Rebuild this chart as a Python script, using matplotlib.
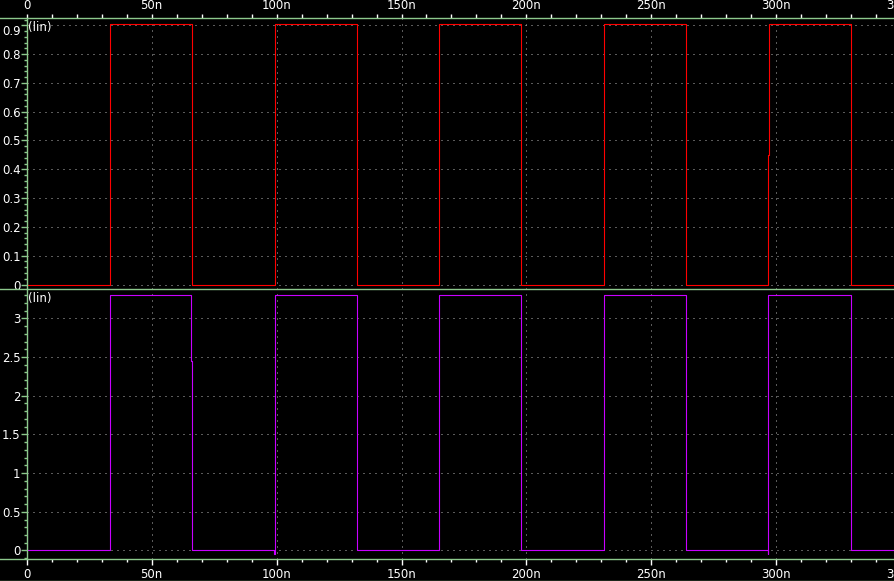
import matplotlib
matplotlib.use("Agg")
import numpy as np
import matplotlib.pyplot as plt
from matplotlib.lines import Line2D
from matplotlib.ticker import MultipleLocator, FixedLocator, FuncFormatter

# waveform data (time in ns, step-post levels)
top_t = [0, 0.01, 33.3, 66.2, 99.2, 132.1, 165.1, 198.0, 231.0, 263.9, 296.8, 297.2, 329.8, 350]
top_v = [0.905, 0, 0.905, 0, 0.905, 0, 0.905, 0, 0.905, 0, 0.45, 0.905, 0, 0]

bot_t = [0, 0.01, 33.3, 65.85, 66.25, 99.0, 99.2, 132.1, 165.1, 198.0, 231.0, 263.9, 296.7, 296.9, 329.8, 350]
bot_v = [3.3, 0, 3.3, 2.45, 0, -0.05, 3.3, 0, 3.3, 0, 3.3, 0, -0.05, 3.3, 0, 0]

top_yticks = [0, 0.1, 0.2, 0.3, 0.4, 0.5, 0.6, 0.7, 0.8, 0.9]
bot_yticks = [0, 0.5, 1, 1.5, 2, 2.5, 3]

W, H = 895, 581
GREEN = "#8cc88c"
GRID = "#b4b4b4"
FS = 8.5


def rect(x0, y0, x1, y1):
    return [x0 / W, 1 - y1 / H, (x1 - x0) / W, (y1 - y0) / H]


fig = plt.figure(figsize=(W / 100, H / 100), dpi=100, facecolor="black")
x0 = 26.8
x1 = x0 + 2.498 * 350
ax_top = fig.add_axes(rect(x0, 18, x1, 289))
ax_bot = fig.add_axes(rect(x0, 289, x1, 559))


def xfmt(v, pos):
    return "0" if abs(v) < 1e-9 else f"{v:g}n"


for ax, yt, minor in ((ax_top, top_yticks, 0.02), (ax_bot, bot_yticks, 0.1)):
    ax.set_facecolor("black")
    for s in ("top", "right", "bottom"):
        ax.spines[s].set_visible(False)
    ax.spines["left"].set_color(GREEN)
    ax.spines["left"].set_linewidth(1)
    ax.set_xlim(0, 350)
    ax.xaxis.set_major_locator(MultipleLocator(50))
    ax.xaxis.set_minor_locator(MultipleLocator(10))
    ax.xaxis.set_major_formatter(FuncFormatter(xfmt))
    ax.yaxis.set_major_locator(FixedLocator(yt))
    ax.yaxis.set_minor_locator(MultipleLocator(minor))
    ax.yaxis.set_major_formatter(FuncFormatter(lambda v, p: f"{v:g}"))
    ax.tick_params(axis="y", which="both", colors=GREEN, labelcolor="white",
                   labelsize=FS, direction="out", width=1)
    ax.tick_params(axis="y", which="major", length=4, pad=0.5)
    ax.tick_params(axis="y", which="minor", length=2.2)
    ax.grid(True, which="major", color=GRID, linestyle=(0, (1, 5)), linewidth=0.72)
    ax.set_axisbelow(True)
    ax.text(0.0015, 0.988, "(lin)", transform=ax.transAxes, color="white",
            fontsize=FS, ha="left", va="top")

ax_top.set_ylim(-0.0156, 0.9253)
ax_bot.set_ylim(-0.110, 3.379)

ax_top.tick_params(axis="x", which="both", top=True, bottom=False, labeltop=True,
                   labelbottom=False, colors="white", labelsize=FS, direction="out",
                   length=3, width=1, pad=1)
ax_bot.tick_params(axis="x", which="both", top=False, bottom=True, labeltop=False,
                   labelbottom=True, colors="white", labelsize=FS, direction="out",
                   width=1, pad=2.5)
ax_bot.tick_params(axis="x", which="major", length=4.3)
ax_bot.tick_params(axis="x", which="minor", length=2.5)

ax_top.plot(top_t, top_v, drawstyle="steps-post", color="#ff0000", lw=0.8)
ax_bot.plot(bot_t, bot_v, drawstyle="steps-post", color="#c800ff", lw=0.8)

# frame lines across the full width
for ypx in (18, 289, 559, 580.5):
    fig.add_artist(Line2D([0, 1], [1 - ypx / H] * 2, transform=fig.transFigure,
                          color=GREEN, lw=1))

# top label of the upper panel sits below its tick
ticks = ax_top.yaxis.get_major_ticks()
ticks[-1].label1.set_verticalalignment("top")

fig.savefig("out.png", dpi=100, facecolor="black")
